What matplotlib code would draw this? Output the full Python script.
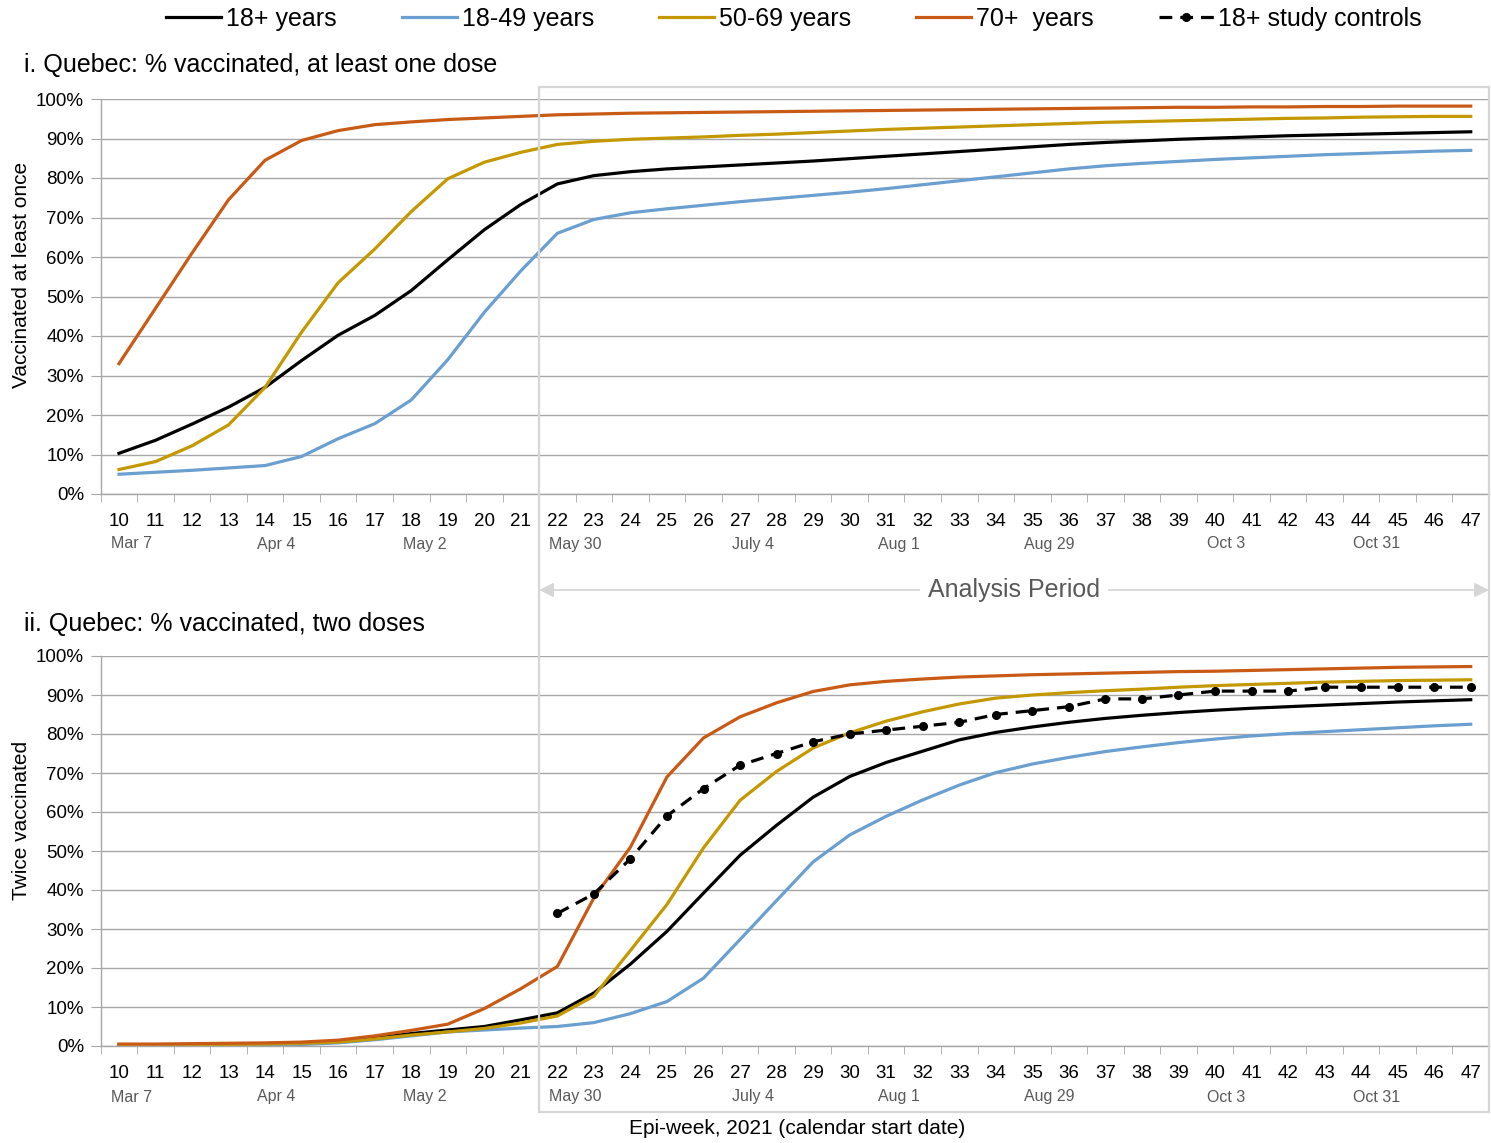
import matplotlib.pyplot as plt
import matplotlib.transforms as mtrans
from matplotlib.patches import Rectangle
from matplotlib.ticker import PercentFormatter
import numpy as np

plt.rcParams['font.family'] = ['Liberation Sans', 'DejaVu Sans']
NARROW = ['Liberation Sans Narrow', 'Liberation Sans', 'DejaVu Sans']

W, H = 1491, 1143

weeks = list(range(10, 48))
control_weeks = list(range(22, 48))
date_weeks = [10, 14, 18, 22, 27, 31, 35, 40, 44]
date_labels = ['Mar 7', 'Apr 4', 'May 2', 'May 30', 'July 4', 'Aug 1', 'Aug 29', 'Oct 3', 'Oct 31']

# % vaccinated, at least one dose
dose1_18p = [10.3, 13.6, 17.7, 22.0, 27.0, 33.8, 40.2, 45.2, 51.5, 59.3, 66.9, 73.3,
             78.5, 80.6, 81.6, 82.3, 82.8, 83.3, 83.8, 84.3, 84.9,
             85.5, 86.1, 86.7, 87.3, 87.9, 88.5, 89.0, 89.4, 89.8, 90.1, 90.4, 90.7,
             90.9, 91.1, 91.3, 91.5, 91.7]
dose1_1849 = [5.0, 5.5, 6.0, 6.6, 7.2, 9.5, 14.0, 17.8, 23.8, 34.0, 46.0, 56.5,
              66.0, 69.5, 71.2, 72.2, 73.1, 74.0, 74.8, 75.6, 76.4,
              77.3, 78.3, 79.3, 80.3, 81.3, 82.3, 83.1, 83.7, 84.2, 84.7, 85.1, 85.5,
              85.9, 86.2, 86.5, 86.8, 87.0]
dose1_5069 = [6.2, 8.2, 12.2, 17.5, 27.0, 41.0, 53.5, 62.0, 71.5, 79.8, 84.0, 86.5,
              88.5, 89.3, 89.8, 90.1, 90.4, 90.8, 91.1, 91.5, 91.9,
              92.3, 92.6, 92.9, 93.2, 93.5, 93.8, 94.1, 94.3, 94.5, 94.7, 94.9, 95.1,
              95.2, 95.4, 95.5, 95.6, 95.6]
dose1_70p = [33.0, 47.0, 61.0, 74.5, 84.5, 89.5, 92.0, 93.5, 94.2, 94.8, 95.2, 95.6,
             96.0, 96.2, 96.4, 96.5, 96.6, 96.7, 96.8, 96.9, 97.0,
             97.1, 97.2, 97.3, 97.4, 97.5, 97.6, 97.7, 97.8, 97.9, 97.9, 98.0, 98.0,
             98.1, 98.1, 98.2, 98.2, 98.2]

# % vaccinated, two doses
dose2_18p = [0.3, 0.3, 0.4, 0.5, 0.6, 0.8, 1.2, 2.0, 3.2, 4.1, 5.0, 6.7,
             8.5, 13.6, 21.0, 29.4, 39.2, 48.9, 56.6, 63.8, 69.1,
             72.7, 75.6, 78.5, 80.4, 81.8, 83.0, 84.0, 84.8, 85.5, 86.1, 86.6, 87.0,
             87.4, 87.8, 88.2, 88.5, 88.8]
dose2_1849 = [0.2, 0.2, 0.2, 0.3, 0.3, 0.4, 0.8, 1.6, 2.6, 3.6, 4.1, 4.6,
              5.0, 6.0, 8.3, 11.4, 17.4, 27.3, 37.3, 47.2, 54.1,
              58.9, 63.1, 66.9, 70.1, 72.3, 74.0, 75.5, 76.7, 77.8, 78.7, 79.5, 80.1,
              80.6, 81.1, 81.6, 82.1, 82.5]
dose2_5069 = [0.3, 0.3, 0.3, 0.4, 0.5, 0.7, 1.0, 1.8, 2.8, 3.6, 4.5, 5.9,
              7.7, 12.8, 24.5, 36.3, 50.8, 63.0, 70.4, 76.4, 80.3,
              83.3, 85.7, 87.7, 89.2, 90.0, 90.6, 91.1, 91.5, 92.0, 92.4, 92.7, 93.0,
              93.3, 93.5, 93.7, 93.8, 93.9]
dose2_70p = [0.5, 0.5, 0.6, 0.7, 0.8, 1.0, 1.5, 2.6, 4.0, 5.6, 9.6, 14.7,
             20.4, 38.0, 51.0, 69.0, 79.0, 84.4, 88.0, 90.9, 92.6,
             93.5, 94.1, 94.6, 94.9, 95.2, 95.4, 95.6, 95.8, 96.0, 96.1, 96.3, 96.5,
             96.7, 96.9, 97.1, 97.2, 97.3]
dose2_controls = [34, 39, 48, 59, 66, 72, 75, 78, 80, 81, 82, 83, 85,
                  86, 87, 89, 89, 90, 91, 91, 91, 92, 92, 92, 92, 92]

C_18P = '#000000'
C_1849 = '#6a9fd0'
C_5069 = '#c49800'
C_70P = '#c85a16'
GRID = '#a6a6a6'
BOX = '#d6d6d6'
LW = 2.3

fig = plt.figure(figsize=(W / 100, H / 100), dpi=100)
left = 100.7 / W
width = (1489 - 100.7) / W
ax1 = fig.add_axes([left, 1 - 494 / H, width, (494 - 99) / H])
ax2 = fig.add_axes([left, 1 - 1046 / H, width, (1046 - 656) / H])


def style_axis(ax, date_offset):
    ax.set_xlim(9.5, 47.5)
    ax.set_ylim(0, 100)
    ax.set_yticks(np.arange(0, 101, 10))
    ax.yaxis.set_major_formatter(PercentFormatter(decimals=0))
    ax.yaxis.grid(True, color=GRID, lw=1.0)
    ax.set_axisbelow(True)
    for s in ['top', 'right']:
        ax.spines[s].set_visible(False)
    for s in ['left', 'bottom']:
        ax.spines[s].set_color(GRID)
        ax.spines[s].set_linewidth(1.0)
    ax.tick_params(axis='y', length=7, color=GRID, labelsize=13.5, pad=5)
    ax.set_xticks(weeks)
    ax.set_xticklabels([str(w) for w in weeks], family=NARROW, fontsize=13.5)
    ax.set_xticks(np.arange(9.5, 48, 1), minor=True)
    ax.tick_params(axis='x', which='major', length=0, pad=14)
    ax.tick_params(axis='x', which='minor', length=6, color=GRID)
    for w, lab in zip(date_weeks, date_labels):
        ax.annotate(lab, xy=(w, 0), xycoords=('data', 'axes fraction'),
                    xytext=(-8, -date_offset), textcoords='offset pixels',
                    ha='left', va='center', fontsize=11.5, color='#595959',
                    family=NARROW, annotation_clip=False)


style_axis(ax1, 50)
style_axis(ax2, 51)

ax1.plot(weeks, dose1_18p, color=C_18P, lw=LW)
ax1.plot(weeks, dose1_1849, color=C_1849, lw=LW)
ax1.plot(weeks, dose1_5069, color=C_5069, lw=LW)
ax1.plot(weeks, dose1_70p, color=C_70P, lw=LW)

h1, = ax2.plot(weeks, dose2_18p, color=C_18P, lw=LW)
h2, = ax2.plot(weeks, dose2_1849, color=C_1849, lw=LW)
h3, = ax2.plot(weeks, dose2_5069, color=C_5069, lw=LW)
h4, = ax2.plot(weeks, dose2_70p, color=C_70P, lw=LW)
h5, = ax2.plot(control_weeks, dose2_controls, color='black', lw=LW,
               dashes=(4, 2.5), marker='o', markersize=5.5)

# titles and axis labels
fig.text(24 / W, 1 - 65 / H, 'i. Quebec: % vaccinated, at least one dose',
         fontsize=18, va='center', ha='left')
fig.text(24 / W, 1 - 624 / H, 'ii. Quebec: % vaccinated, two doses',
         fontsize=18, va='center', ha='left')
fig.text(22 / W, 1 - 275 / H, 'Vaccinated at least once', rotation=90,
         fontsize=15, va='center', ha='center')
fig.text(22 / W, 1 - 820 / H, 'Twice vaccinated', rotation=90,
         fontsize=15, va='center', ha='center')
fig.text(797 / W, 1 - 1129 / H, 'Epi-week, 2021 (calendar start date)',
         fontsize=15, va='center', ha='center')

# analysis period box + arrow
blend = mtrans.blended_transform_factory(ax1.transData, fig.transFigure)
box_top = 1 - 87 / H
box_bot = 1 - 1112 / H
rect = Rectangle((21.5, box_bot), 47.5 - 21.5, box_top - box_bot, transform=blend,
                 fill=False, ec=BOX, lw=1.6, clip_on=False, zorder=0.5)
fig.add_artist(rect)
y_arrow = 1 - 590 / H
ax1.annotate('', xy=(21.5, y_arrow), xytext=(47.5, y_arrow), xycoords=blend,
             textcoords=blend, annotation_clip=False,
             arrowprops=dict(arrowstyle='<|-|>', color=BOX, lw=1.2,
                             mutation_scale=22, shrinkA=0, shrinkB=0))
ax1.text(34.5, y_arrow, 'Analysis Period', transform=blend, fontsize=18,
         color='#595959', ha='center', va='center', clip_on=False,
         bbox=dict(facecolor='white', edgecolor='none', pad=6))

fig.legend([h1, h2, h3, h4, h5],
           ['18+ years', '18-49 years', '50-69 years', '70+  years', '18+ study controls'],
           loc='center', bbox_to_anchor=(794 / W, 1 - 19 / H), ncol=5, frameon=False,
           fontsize=18, handlelength=2.2, handletextpad=0.2, columnspacing=2.6)

fig.savefig('out.png', dpi=100)
